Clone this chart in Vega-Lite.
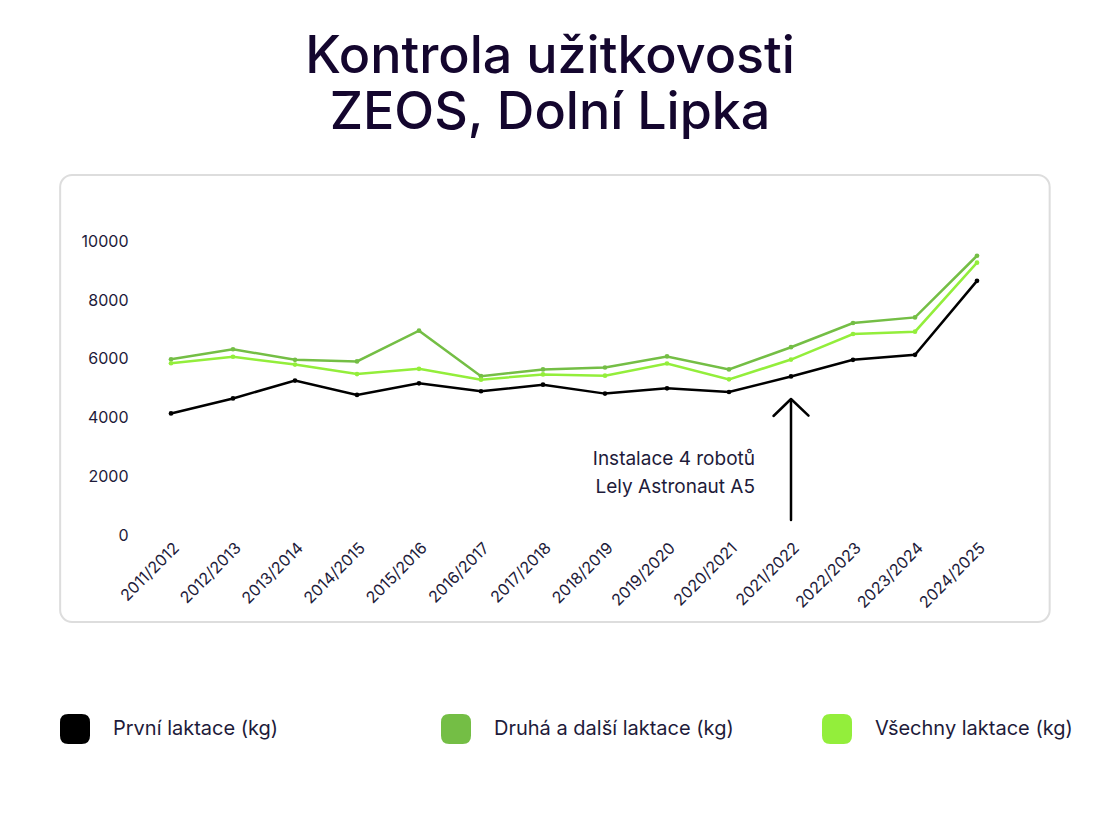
{
  "$schema": "https://vega.github.io/schema/vega-lite/v6.json",
  "autosize": "none",
  "padding": {"left": 140, "top": 212, "right": 92, "bottom": 281},
  "width": 868,
  "height": 323,
  "background": "white",
  "title": {
    "text": ["Kontrola užitkovosti", "ZEOS, Dolní Lipka"],
    "font": "Inter",
    "fontSize": 52,
    "fontWeight": 500,
    "color": "#14062e",
    "lineHeight": 56,
    "anchor": "middle",
    "frame": "group",
    "dx": -24,
    "offset": 34
  },
  "config": {
    "font": "Inter",
    "view": {"stroke": null},
    "axis": {"labelFont": "Inter", "labelColor": "#1e1b3a", "labelFontSize": 16}
  },
  "datasets": {
    "milk": [
      {"season": "2011/2012", "series": "První laktace (kg)", "kg": 4140},
      {"season": "2012/2013", "series": "První laktace (kg)", "kg": 4650},
      {"season": "2013/2014", "series": "První laktace (kg)", "kg": 5260},
      {"season": "2014/2015", "series": "První laktace (kg)", "kg": 4770},
      {"season": "2015/2016", "series": "První laktace (kg)", "kg": 5165},
      {"season": "2016/2017", "series": "První laktace (kg)", "kg": 4895},
      {"season": "2017/2018", "series": "První laktace (kg)", "kg": 5120},
      {"season": "2018/2019", "series": "První laktace (kg)", "kg": 4815},
      {"season": "2019/2020", "series": "První laktace (kg)", "kg": 4995},
      {"season": "2020/2021", "series": "První laktace (kg)", "kg": 4870},
      {"season": "2021/2022", "series": "První laktace (kg)", "kg": 5400},
      {"season": "2022/2023", "series": "První laktace (kg)", "kg": 5965},
      {"season": "2023/2024", "series": "První laktace (kg)", "kg": 6135},
      {"season": "2024/2025", "series": "První laktace (kg)", "kg": 8655},
      {"season": "2011/2012", "series": "Druhá a další laktace (kg)", "kg": 5985},
      {"season": "2012/2013", "series": "Druhá a další laktace (kg)", "kg": 6325},
      {"season": "2013/2014", "series": "Druhá a další laktace (kg)", "kg": 5965},
      {"season": "2014/2015", "series": "Druhá a další laktace (kg)", "kg": 5910},
      {"season": "2015/2016", "series": "Druhá a další laktace (kg)", "kg": 6960},
      {"season": "2016/2017", "series": "Druhá a další laktace (kg)", "kg": 5410},
      {"season": "2017/2018", "series": "Druhá a další laktace (kg)", "kg": 5640},
      {"season": "2018/2019", "series": "Druhá a další laktace (kg)", "kg": 5705},
      {"season": "2019/2020", "series": "Druhá a další laktace (kg)", "kg": 6080},
      {"season": "2020/2021", "series": "Druhá a další laktace (kg)", "kg": 5640},
      {"season": "2021/2022", "series": "Druhá a další laktace (kg)", "kg": 6395},
      {"season": "2022/2023", "series": "Druhá a další laktace (kg)", "kg": 7220},
      {"season": "2023/2024", "series": "Druhá a další laktace (kg)", "kg": 7410},
      {"season": "2024/2025", "series": "Druhá a další laktace (kg)", "kg": 9510},
      {"season": "2011/2012", "series": "Všechny laktace (kg)", "kg": 5850},
      {"season": "2012/2013", "series": "Všechny laktace (kg)", "kg": 6070},
      {"season": "2013/2014", "series": "Všechny laktace (kg)", "kg": 5805},
      {"season": "2014/2015", "series": "Všechny laktace (kg)", "kg": 5480},
      {"season": "2015/2016", "series": "Všechny laktace (kg)", "kg": 5660},
      {"season": "2016/2017", "series": "Všechny laktace (kg)", "kg": 5290},
      {"season": "2017/2018", "series": "Všechny laktace (kg)", "kg": 5470},
      {"season": "2018/2019", "series": "Všechny laktace (kg)", "kg": 5425},
      {"season": "2019/2020", "series": "Všechny laktace (kg)", "kg": 5840},
      {"season": "2020/2021", "series": "Všechny laktace (kg)", "kg": 5300},
      {"season": "2021/2022", "series": "Všechny laktace (kg)", "kg": 5975},
      {"season": "2022/2023", "series": "Všechny laktace (kg)", "kg": 6845},
      {"season": "2023/2024", "series": "Všechny laktace (kg)", "kg": 6925},
      {"season": "2024/2025", "series": "Všechny laktace (kg)", "kg": 9275}
    ],
    "note": [
      {"season": "2021/2022", "text": "Instalace 4 robotů\nLely Astronaut A5"}
    ]
  },
  "resolve": {"scale": {"x": "independent"}},
  "layer": [
    {
      "data": {"values": [{}]},
      "mark": {"type": "rect", "filled": false, "stroke": "#dddddd", "strokeWidth": 2, "cornerRadius": 12},
      "encoding": {
        "x": {"datum": -0.092, "type": "quantitative", "scale": {"domain": [0, 1]}, "axis": null},
        "x2": {"datum": 1.048},
        "y": {"datum": 12260, "type": "quantitative"},
        "y2": {"datum": -2963}
      }
    },
    {
      "encoding": {
        "x": {
          "field": "season",
          "type": "ordinal",
          "scale": {"type": "point", "padding": 0.5},
          "axis": {
            "title": null,
            "domain": false,
            "ticks": false,
            "labelAngle": -45,
            "labelAlign": "right",
            "labelBaseline": "middle",
            "labelPadding": 10,
            "labelOffset": 5
          }
        },
        "y": {
          "type": "quantitative",
          "scale": {"domain": [0, 11000], "nice": false},
          "axis": {
            "title": null,
            "domain": false,
            "ticks": false,
            "format": "d",
            "values": [0, 2000, 4000, 6000, 8000, 10000],
            "gridColor": "#cccccc",
            "labelPadding": 12
          }
        }
      },
      "layer": [
        {
          "data": {"name": "milk"},
          "mark": {"type": "line", "strokeWidth": 2.5, "point": {"size": 22, "filled": true}},
          "encoding": {
            "y": {"field": "kg"},
            "color": {
              "field": "series",
              "type": "nominal",
              "scale": {
                "domain": ["První laktace (kg)", "Druhá a další laktace (kg)", "Všechny laktace (kg)"],
                "range": ["#000000", "#74be45", "#93ee3b"]
              },
              "legend": {
                "title": null,
                "orient": "none",
                "legendX": -80,
                "legendY": 502,
                "direction": "horizontal",
                "columns": 3,
                "gridAlign": "all",
                "columnPadding": 88,
                "padding": 0,
                "symbolType": "M -1 -0.45 Q -1 -1 -0.45 -1 L 0.45 -1 Q 1 -1 1 -0.45 L 1 0.45 Q 1 1 0.45 1 L -0.45 1 Q -1 1 -1 0.45 Z",
                "symbolSize": 900,
                "symbolStrokeWidth": 0,
                "labelFont": "Inter",
                "labelFontSize": 20,
                "labelColor": "#1e1b3a",
                "labelOffset": 23,
                "labelLimit": 400,
                "encode": {
                  "symbols": {"update": {"fill": {"scale": "color", "field": "value"}, "opacity": {"value": 1}}}
                }
              }
            }
          }
        },
        {
          "data": {"name": "note"},
          "mark": {"type": "rule", "strokeWidth": 2.5, "color": "#000000", "strokeCap": "round"},
          "encoding": {
            "y": {"datum": 511},
            "y2": {"datum": 4597}
          }
        },
        {
          "data": {"name": "note"},
          "mark": {
            "type": "point",
            "shape": "M -1 0.97 L 0 0 L 1 0.95",
            "size": 1225,
            "filled": false,
            "stroke": "#000000",
            "strokeWidth": 2.5,
            "strokeCap": "round",
            "strokeJoin": "round",
            "opacity": 1
          },
          "encoding": {
            "y": {"datum": 4631}
          }
        },
        {
          "data": {"name": "note"},
          "mark": {
            "type": "text",
            "align": "right",
            "baseline": "alphabetic",
            "dx": -36,
            "fontSize": 19,
            "lineHeight": 28,
            "lineBreak": "\n",
            "color": "#1e1b3a",
            "font": "Inter"
          },
          "encoding": {
            "y": {"datum": 2384},
            "text": {"field": "text"}
          }
        }
      ]
    }
  ]
}
